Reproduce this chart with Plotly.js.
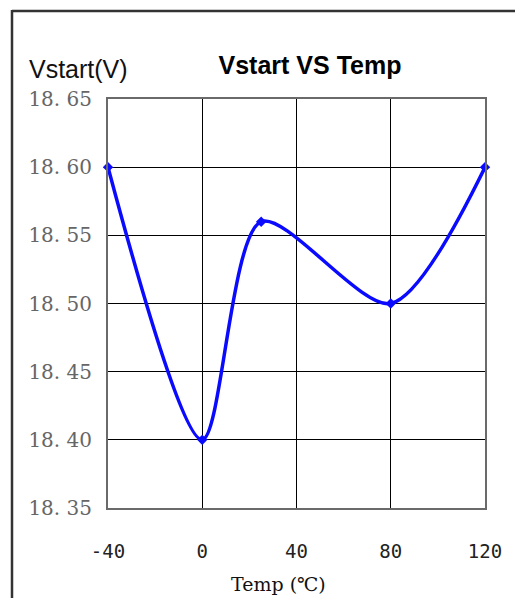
<!DOCTYPE html>
<html><head><meta charset="utf-8">
<script src="https://cdn.plot.ly/plotly-3.0.1.min.js"></script>
<style>html,body{margin:0;padding:0;background:#fff}#c{width:515px;height:601px}</style>
</head><body><div id="c"></div>
<script>
const temps = [-40, 0, 25, 80, 120];
const vstart = [18.60, 18.40, 18.56, 18.50, 18.60];
const xTicks = [-40, 0, 40, 80, 120];
const xTickText = ['-40', '0', '40', '80', '120'];
const yTicks = [18.35, 18.40, 18.45, 18.50, 18.55, 18.60, 18.65];
const yTickText = ['18. 35','18. 40','18. 45','18. 50','18. 55','18. 60','18. 65'];

const W = 515, H = 601, L = 108, R = 485, T = 99, B = 508;
const px = x => (x - L) / (R - L);
const py = y => (B - y) / (B - T);

const trace = {
  x: temps, y: vstart, type: 'scatter', mode: 'lines+markers',
  line: {color: '#0a0aff', width: 3.5, shape: 'spline', smoothing: 0.8},
  marker: {color: '#0a0aff', size: 8, symbol: 'diamond'},
  cliponaxis: false, hoverinfo: 'skip'
};

const layout = {
  width: W, height: H,
  margin: {l: L, r: W - R, t: T, b: H - B},
  paper_bgcolor: '#fff', plot_bgcolor: '#fff',
  showlegend: false,
  title: {text: '<b>Vstart VS Temp</b>', xref: 'container', yref: 'container',
          x: 310 / W, y: 1 - 65 / H, xanchor: 'center', yanchor: 'middle',
          font: {family: 'Liberation Sans, Arial', size: 25, color: '#000'}},
  xaxis: {range: [-40, 120], tickvals: xTicks, ticktext: xTickText, showgrid: true, gridcolor: '#000', gridwidth: 1,
          zeroline: false, showline: true, mirror: true, linecolor: '#6a6a6a', linewidth: 2,
          ticks: 'outside', ticklen: 25, tickcolor: 'rgba(0,0,0,0)',
          tickfont: {family: 'DejaVu Sans Mono', size: 19, color: '#222'}},
  yaxis: {range: [18.35, 18.65], tickvals: yTicks, ticktext: yTickText, showgrid: true,
          gridcolor: '#000', gridwidth: 1, zeroline: false, showline: true, mirror: true,
          linecolor: '#6a6a6a', linewidth: 2, ticks: 'outside', ticklen: 10, tickcolor: 'rgba(0,0,0,0)',
          tickfont: {family: 'DejaVu Serif', size: 20, color: '#666'}},
  annotations: [
    {text: 'Vstart(V)', xref: 'paper', yref: 'paper', x: px(27), y: py(69), xanchor: 'left', yanchor: 'middle',
     showarrow: false, font: {family: 'Liberation Sans, Arial', size: 25, color: '#111'}},
    {text: 'Temp (℃)', xref: 'paper', yref: 'paper', x: px(278), y: py(584), xanchor: 'center', yanchor: 'middle',
     showarrow: false, font: {family: 'DejaVu Serif, Noto Sans CJK SC', size: 19, color: '#111'}}
  ],
  shapes: [
    {type: 'line', xref: 'paper', yref: 'paper', x0: px(12), x1: px(12), y0: py(10), y1: py(598),
     line: {color: '#333', width: 2.5}},
    {type: 'line', xref: 'paper', yref: 'paper', x0: px(12), x1: px(515), y0: py(11), y1: py(11),
     line: {color: '#333', width: 2.5}}
  ]
};

Plotly.newPlot('c', [trace], layout, {staticPlot: true, displayModeBar: false});
</script></body></html>
